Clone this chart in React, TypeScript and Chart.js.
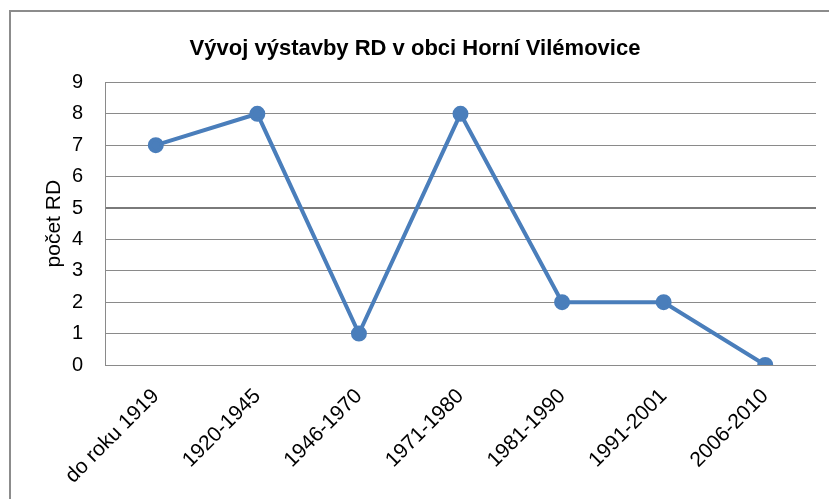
import React, { useEffect, useRef } from "react";
import { Chart, registerables } from "chart.js";

Chart.register(...registerables);

const categories = [
  "do roku 1919",
  "1920-1945",
  "1946-1970",
  "1971-1980",
  "1981-1990",
  "1991-2001",
  "2006-2010",
];
const values = [7, 8, 1, 8, 2, 2, 0];
const chartTitle = "Vývoj výstavby RD v obci Horní Vilémovice";
const yTitle = "počet RD";

const framePlugin = {
  id: "frame",
  afterDraw(chart: any) {
    const ctx = chart.ctx;
    ctx.save();
    ctx.strokeStyle = "#8c8c8c";
    ctx.lineWidth = 2;
    ctx.beginPath();
    ctx.moveTo(10, chart.height + 2);
    ctx.lineTo(10, 11);
    ctx.lineTo(chart.width + 2, 11);
    ctx.stroke();
    ctx.restore();
  },
};

export default function App() {
  const ref = useRef<HTMLCanvasElement | null>(null);
  useEffect(() => {
    document.body.style.margin = "0";
    const chart = new Chart(ref.current as HTMLCanvasElement, {
      type: "line",
      data: {
        labels: categories,
        datasets: [
          {
            data: values,
            borderColor: "#4a7ebb",
            backgroundColor: "#4a7ebb",
            borderWidth: 4,
            pointRadius: 6,
            pointHoverRadius: 6,
            pointBackgroundColor: "#4a7ebb",
            pointBorderColor: "#4a7ebb",
            tension: 0,
          },
        ],
      },
      options: {
        responsive: true,
        maintainAspectRatio: false,
        animation: false,
        font: { family: "'Liberation Sans', Arial, sans-serif" } as any,
        layout: { padding: { left: 14, right: 13, top: 0, bottom: 0 } },
        plugins: {
          legend: { display: false },
          tooltip: { enabled: false },
          title: {
            display: true,
            text: chartTitle,
            color: "#000",
            font: { family: "'Liberation Sans', Arial, sans-serif", size: 22, weight: "bold" },
            padding: { top: 36, bottom: 20 },
          },
        },
        scales: {
          x: {
            offset: true,
            grid: { display: false, drawTicks: false },
            border: { display: false },
            ticks: {
              color: "#000",
              minRotation: 45,
              maxRotation: 45,
              padding: 19,
              font: { family: "'Liberation Sans', Arial, sans-serif", size: 21 },
            },
            afterFit(scale: any) {
              scale.height = 134;
            },
          },
          y: {
            min: 0,
            max: 9,
            ticks: {
              stepSize: 1,
              color: "#000",
              padding: 22,
              font: { family: "'Liberation Sans', Arial, sans-serif", size: 20 },
            },
            grid: {
              drawTicks: false,
              color: (c: any) => (c.tick && c.tick.value === 5 ? "#7a7a7a" : "#8a8a8a"),
              lineWidth: (c: any) => (c.tick && c.tick.value === 5 ? 2 : 1),
            },
            border: { display: true, color: "#8a8a8a", width: 1 },
            title: {
              display: true,
              text: yTitle,
              color: "#000",
              font: { family: "'Liberation Sans', Arial, sans-serif", size: 21 },
              padding: { top: 28, bottom: 0 },
            },
            afterFit(scale: any) {
              scale.width = 91;
            },
          },
        },
      },
      plugins: [framePlugin],
    });
    return () => chart.destroy();
  }, []);
  return (
    <div style={{ width: 829, height: 499, position: "relative", background: "#fff" }}>
      <canvas ref={ref} />
    </div>
  );
}
